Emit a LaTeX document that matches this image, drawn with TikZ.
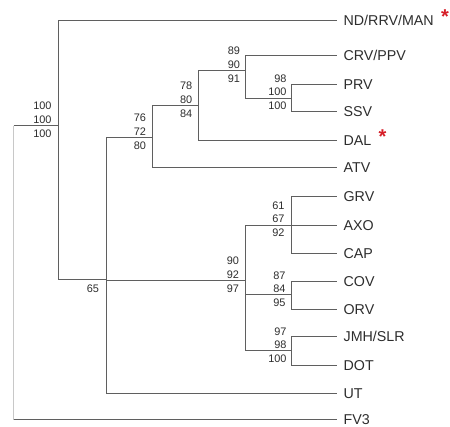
\documentclass[tikz,border=0pt]{standalone}
\usepackage{fontspec}
\setmainfont{Liberation Sans}
\usetikzlibrary{positioning}

\definecolor{branchgray}{RGB}{95,95,95}
\definecolor{rootgray}{RGB}{200,200,200}
\definecolor{txtgray}{RGB}{45,45,45}
\definecolor{starred}{RGB}{214,30,40}

\newcommand{\redstar}{\raisebox{1.5pt}{\textcolor{starred}{\fontsize{15}{15}\selectfont\bfseries *}}}

\tikzset{every picture/.style={line width=0.75pt}}
\tikzset{
  branch/.style={draw=branchgray, line width=0.75pt},
  rootbranch/.style={draw=rootgray, line width=0.75pt},
  leaf/.style={anchor=west, inner xsep=4.6pt, inner ysep=0pt, text height=7.6pt, text depth=0pt,
    text=txtgray, font=\fontsize{10.7}{12}\selectfont},
  boot/.style={anchor=east, align=right, inner sep=0pt, text=txtgray,
    font=\fontsize{8.2}{10.3}\selectfont},
}

\begin{document}
\begin{tikzpicture}[x=0.75pt,y=0.75pt,yscale=-1,xscale=1]
\useasboundingbox (0,0) rectangle (450,426);

% inner nodes of the tree
\coordinate (r) at (13.5,125.5);
\coordinate (a) at (58.5,125.5);
\coordinate (b) at (106.5,279.5);
\coordinate (c) at (152.5,137.5);
\coordinate (e) at (198.5,105.5);
\coordinate (f) at (245.5,70.5);
\coordinate (g) at (291.5,98.5);
\coordinate (d) at (245.5,280.5);
\coordinate (h) at (291.5,225.5);
\coordinate (i) at (291.5,294.5);
\coordinate (j) at (291.5,350.5);

% taxa
\node[leaf] (nd)  at (337,20.5)  {ND/RRV/MAN\hspace{5.5pt}\redstar};
\node[leaf] (crv) at (337,55.5)  {CRV/PPV};
\node[leaf] (prv) at (337,84.5)  {PRV};
\node[leaf] (ssv) at (337,111.5) {SSV};
\node[leaf] (dal) at (337,140.5) {DAL\hspace{5.5pt}\redstar};
\node[leaf] (atv) at (337,167.5) {ATV};
\node[leaf] (grv) at (337,196.5) {GRV};
\node[leaf] (axo) at (337,225.5) {AXO};
\node[leaf] (cap) at (337,253.5) {CAP};
\node[leaf] (cov) at (337,281.5) {COV};
\node[leaf] (orv) at (337,309.5) {ORV};
\node[leaf] (jmh) at (337,336.5) {JMH/SLR};
\node[leaf] (dot) at (337,365.5) {DOT};
\node[leaf] (ut)  at (337,393.5) {UT};
\node[leaf] (fv3) at (337,419.5) {FV3};

% branches
\draw[rootbranch] (r) -- (r |- fv3.west);
\draw[branch] (r |- fv3.west) -- (fv3.west);
\draw[branch] (r) -- (a);
\draw[branch] (a) |- (nd.west);
\draw[branch] (a) |- (b);
\draw[branch] (b) |- (c);
\draw[branch] (b) |- (d);
\draw[branch] (b) |- (ut.west);
\draw[branch] (c) |- (e);
\draw[branch] (c) |- (atv.west);
\draw[branch] (e) |- (f);
\draw[branch] (e) |- (dal.west);
\draw[branch] (f) |- (crv.west);
\draw[branch] (f) |- (g);
\draw[branch] (g) |- (prv.west);
\draw[branch] (g) |- (ssv.west);
\draw[branch] (d) |- (h);
\draw[branch] (d) |- (i);
\draw[branch] (d) |- (j);
\draw[branch] (h) |- (grv.west);
\draw[branch] (h) -- (axo.west);
\draw[branch] (h) |- (cap.west);
\draw[branch] (i) |- (cov.west);
\draw[branch] (i) |- (orv.west);
\draw[branch] (j) |- (jmh.west);
\draw[branch] (j) |- (dot.west);

% bootstrap values
\node[boot] (ba) at ([shift={(-6.5,-6)}]a) {100\\100\\100};
\node[boot] (bc) at ([shift={(-6,-6)}]c) {76\\72\\80};
\node[boot] (be) at ([shift={(-5.8,-6)}]e) {78\\80\\84};
\node[boot] (bf) at ([shift={(-5,-6)}]f) {89\\90\\91};
\node[boot] (bg) at ([shift={(-4.5,-6.5)}]g) {98\\100\\100};
\node[boot] (bd) at ([shift={(-6,-6)}]d) {90\\92\\97};
\node[boot] (bh) at ([shift={(-6.5,-6.5)}]h) {61\\67\\92};
\node[boot] (bi) at ([shift={(-5.5,-5.5)}]i) {87\\84\\95};
\node[boot] (bj) at ([shift={(-4.5,-5.5)}]j) {97\\98\\100};
\node[boot] (bb) at ([shift={(-7,9)}]b) {65};

\end{tikzpicture}
\end{document}
